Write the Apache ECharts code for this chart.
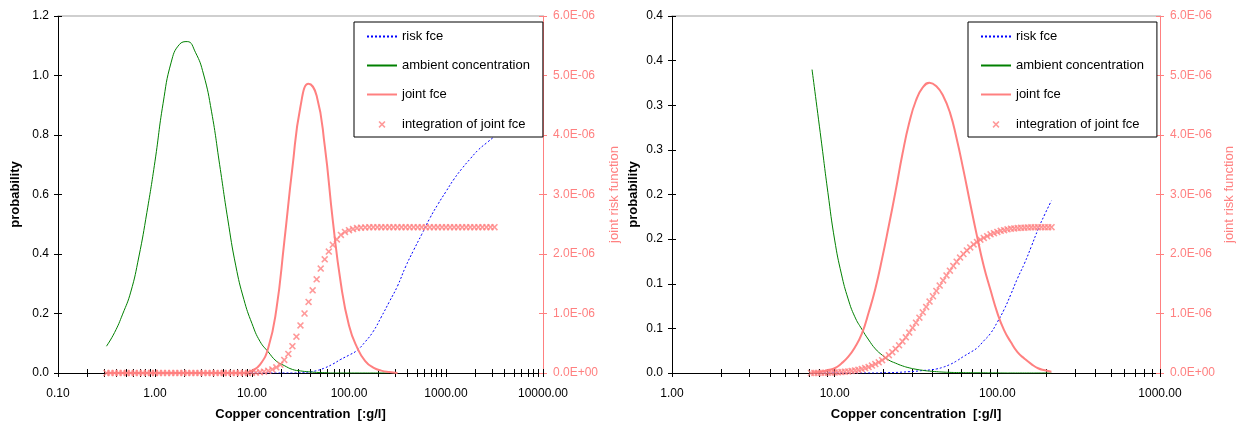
<!DOCTYPE html>
<html>
<head>
<meta charset="utf-8">
<script src="https://cdn.jsdelivr.net/npm/echarts@6/dist/echarts.min.js"></script>
<style>
  html, body { margin: 0; padding: 0; background: #fff; }
  #main { width: 1238px; height: 423px; }
</style>
</head>
<body>
<div id="main"></div>
<script>
// ---------- left chart : 0.316 .. 3162 ----------
var xLine1 = [0.316,0.383,0.464,0.562,0.681,0.825,
  1,1.21,1.47,1.78,2.15,2.61,3.16,3.83,4.64,5.62,6.81,8.25,
  10,12.1,14.7,17.8,21.5,26.1,31.6,38.3,46.4,56.2,68.1,82.5,
  100,121,147,178,215,261,316,383,464,562,681,825,
  1000,1211,1468,1778,2154,2610,3162];
var risk1 = [0,0,0,0,0,0,
  0,0,0,0,0,0,0,0,0,0,0,0,
  0,0,0,0,0,0,0.001,0.003,0.008,0.017,0.03,0.046,
  0.06,0.076,0.105,0.14,0.188,0.24,0.292,0.357,0.413,0.466,0.52,0.567,
  0.61,0.652,0.688,0.72,0.75,0.773,0.795];
var ambient1 = [0.09,0.136,0.198,0.272,0.39,0.54,
  0.712,0.905,1.045,1.104,1.114,1.078,1.005,0.878,0.70,0.518,0.36,0.247,
  0.166,0.106,0.071,0.040,0.025,0.012,0.007,0.004,0.002,0.001,0,0,
  0,0,0,0,0,0,null,null,null,null,null,null,
  null,null,null,null,null,null,null];
var joint1 = [0,0,0,0,0,0,
  0,0,0,0,0,0,0,0,0,0,0,0,
  0.04e-6,0.14e-6,0.42e-6,1.06e-6,2.2e-6,3.45e-6,4.48e-6,4.86e-6,4.66e-6,3.82e-6,2.56e-6,1.5e-6,
  0.8e-6,0.43e-6,0.2e-6,0.09e-6,0.04e-6,0.015e-6,0,null,null,null,null,null,
  null,null,null,null,null,null,null];
var xMark1 = [0.316,0.348,0.383,0.422,0.464,0.511,0.562,0.619,0.681,0.75,0.825,0.909,
  1,1.1,1.21,1.33,1.47,1.62,1.78,1.96,2.15,2.37,2.61,2.87,3.16,3.48,3.83,4.22,4.64,5.11,5.62,6.19,6.81,7.5,8.25,9.09,
  10,11,12.1,13.3,14.7,16.2,17.8,19.6,21.5,23.7,26.1,28.7,31.6,34.8,38.3,42.2,46.4,51.1,56.2,61.9,68.1,75,82.5,90.9,
  100,110,121,133,147,162,178,196,215,237,261,287,316,348,383,422,464,511,562,619,681,750,825,909,
  1000,1101,1212,1334,1468,1616,1778,1957,2154,2371,2610,2873,3162];
var integ1 = [0,0,0,0,0,0,0,0,0,0,0,0,
  0,0,0,0,0,0,0,0,0,0,0,0,0,0,0,0,0,0,0,0,0,0,0,0,
  0.005e-6,0.008e-6,0.013e-6,0.022e-6,0.036e-6,0.06e-6,0.095e-6,0.14e-6,0.22e-6,0.32e-6,0.45e-6,0.61e-6,
  0.8e-6,1.0e-6,1.195e-6,1.39e-6,1.575e-6,1.755e-6,1.91e-6,2.04e-6,2.155e-6,2.245e-6,2.32e-6,2.37e-6,
  2.4e-6,2.42e-6,2.435e-6,2.443e-6,2.447e-6,2.45e-6,2.45e-6,2.45e-6,2.45e-6,2.45e-6,2.45e-6,2.45e-6,
  2.45e-6,2.45e-6,2.45e-6,2.45e-6,2.45e-6,2.45e-6,2.45e-6,2.45e-6,2.45e-6,2.45e-6,2.45e-6,2.45e-6,
  2.45e-6,2.45e-6,2.45e-6,2.45e-6,2.45e-6,2.45e-6,2.45e-6,2.45e-6,2.45e-6,2.45e-6,2.45e-6,2.45e-6,2.45e-6];

// ---------- right chart : 7.3 .. 215 ----------
var xLine2 = [7.26,8.25,9.09,
  10,11,12.1,13.3,14.7,16.2,17.8,19.6,21.5,23.7,26.1,28.7,31.6,34.8,38.3,42.2,46.4,51.1,56.2,61.9,68.1,75,82.5,90.9,
  100,110,121,133,147,162,178,196,215];
var risk2 = [0,0,0,
  0,0,0,0,0,0,0,0.0002,0.0004,0.0006,0.001,0.0015,0.002,0.0028,0.0034,0.0045,0.0065,0.0095,0.0135,0.0185,0.023,0.028,0.036,0.0445,
  0.057,0.071,0.088,0.106,0.123,0.142,0.161,0.178,0.193];
var ambient2 = [0.34,0.262,0.202,
  0.149,0.111,0.083,0.063,0.049,0.037,0.027,0.02,0.0145,0.011,0.008,0.0058,0.0042,0.003,0.0021,0.0015,0.001,0.0007,0.0005,0.0004,0.0003,0.0002,0.0002,0.0001,
  0.0001,0,0,0,0,0,0,0,0];
var joint2 = [0.01e-6,0.02e-6,0.05e-6,
  0.08e-6,0.16e-6,0.27e-6,0.43e-6,0.66e-6,1.02e-6,1.42e-6,1.93e-6,2.47e-6,3.06e-6,3.68e-6,4.2e-6,4.58e-6,4.8e-6,4.88e-6,4.82e-6,4.66e-6,4.38e-6,3.94e-6,3.41e-6,2.85e-6,2.3e-6,1.8e-6,1.39e-6,
  1.01e-6,0.72e-6,0.52e-6,0.35e-6,0.24e-6,0.15e-6,0.08e-6,0.045e-6,0.02e-6];
var xMark2 = [7.15,7.5,7.87,8.25,8.66,9.09,9.53,
  10,10.49,11.01,11.55,12.12,12.71,13.34,13.99,14.68,15.4,16.16,16.95,17.78,18.66,19.57,20.54,21.54,22.6,23.71,24.88,26.1,27.38,28.73,30.14,
  31.62,33.18,34.81,36.52,38.31,40.19,42.17,44.24,46.42,48.7,51.09,53.6,56.23,59,61.9,64.94,68.13,71.48,74.99,78.67,82.54,86.6,90.85,95.32,
  100,104.9,110.1,115.5,121.2,127.1,133.4,139.9,146.8,154,161.6,169.5,177.8,186.6,195.7,205.4,215.4];
var integ2 = [0,0.001e-6,0.002e-6,0.003e-6,0.004e-6,0.005e-6,0.007e-6,
  0.009e-6,0.012e-6,0.016e-6,0.021e-6,0.027e-6,0.034e-6,0.043e-6,0.054e-6,0.067e-6,0.083e-6,0.1e-6,0.125e-6,0.15e-6,0.18e-6,0.215e-6,0.255e-6,0.3e-6,0.35e-6,0.405e-6,0.465e-6,0.53e-6,0.6e-6,0.68e-6,0.76e-6,
  0.845e-6,0.93e-6,1.02e-6,1.11e-6,1.2e-6,1.29e-6,1.38e-6,1.47e-6,1.555e-6,1.64e-6,1.72e-6,1.8e-6,1.87e-6,1.94e-6,2.0e-6,2.06e-6,2.11e-6,2.16e-6,2.2e-6,2.24e-6,2.27e-6,2.3e-6,2.33e-6,2.35e-6,
  2.37e-6,2.39e-6,2.4e-6,2.415e-6,2.425e-6,2.43e-6,2.435e-6,2.44e-6,2.443e-6,2.446e-6,2.448e-6,2.449e-6,2.45e-6,2.45e-6,2.45e-6,2.45e-6,2.45e-6];

// tick labels of the right chart's probability axis (0, 0.05 .. 0.40 shown rounded)
var yLabels2 = ['0.0','0.1','0.1','0.2','0.2','0.3','0.3','0.4','0.4'];
var tickMantissas = [1,2,3,4,5,6,7,8,9];

var FONT = '"Liberation Sans", Arial, sans-serif';
var PINK = '#ff8080';
var X_PATH = 'path://M0,1.6L1.6,0L5,3.4L8.4,0L10,1.6L6.6,5L10,8.4L8.4,10L5,6.6L1.6,10L0,8.4L3.4,5Z';
var X_ICON = 'path://M0,0M30,14M11.5,5L12.6,3.9L15,6.3L17.4,3.9L18.5,5L16.1,7.4L18.5,9.8L17.4,10.9L15,8.5L12.6,10.9L11.5,9.8L13.9,7.4Z';

function zip(xs, ys) {
  return xs.map(function (x, i) { return [x, ys[i]]; });
}
function logTicks(lo, hi) {
  var out = [];
  for (var d = lo; d < hi; d++) {
    tickMantissas.forEach(function (m) { out.push(d + Math.log10(m)); });
  }
  out.push(hi);
  return out;
}
function sciLabel(v) {
  var s = v.toExponential(1).split('e');
  var e = parseInt(s[1], 10);
  return s[0] + 'E' + (e < 0 ? '-' : '+') + (Math.abs(e) < 10 ? '0' : '') + Math.abs(e);
}

//////////AXES
function mainX(gi, lo, hi) {
  return {
    type: 'log', logBase: 10, gridIndex: gi, position: 'bottom',
    min: Math.pow(10, lo), max: Math.pow(10, hi),
    axisLine: {onZero: false, lineStyle: {color: '#000', width: 1}},
    axisTick: {show: false},
    splitLine: {show: false},
    axisLabel: {fontSize: 12, color: '#000', margin: 15, fontFamily: FONT,
      formatter: function (v) { return v.toFixed(2); }},
    name: 'Copper concentration  [:g/l]', nameLocation: 'middle', nameGap: 35,
    nameTextStyle: {fontSize: 13, fontWeight: 'bold', color: '#000', fontFamily: FONT}
  };
}
function tickX(gi, lo, hi) {
  return {
    type: 'value', gridIndex: gi, position: 'bottom', min: lo, max: hi, offset: -4,
    axisLine: {show: false, onZero: false},
    axisTick: {show: true, length: 8, customValues: logTicks(lo, hi), lineStyle: {color: '#000'}},
    axisLabel: {show: false}, splitLine: {show: false}
  };
}
// grey frame line on top of the plot area
function topX(gi) {
  return {
    type: 'value', gridIndex: gi, position: 'top', min: 0, max: 1,
    axisLine: {show: true, onZero: false, lineStyle: {color: '#c0c0c0', width: 1.5}},
    axisTick: {show: false}, axisLabel: {show: false}, splitLine: {show: false}
  };
}
function leftY(gi, max, interval, fmt, gap) {
  return {
    type: 'value', gridIndex: gi, position: 'left', min: 0, max: max, interval: interval,
    axisLine: {show: true, onZero: false, lineStyle: {color: '#000'}},
    axisTick: {show: false}, splitLine: {show: false},
    axisLabel: {fontSize: 12, color: '#000', margin: 9, fontFamily: FONT, formatter: fmt},
    name: 'probability', nameLocation: 'middle', nameRotate: 90, nameGap: gap,
    nameTextStyle: {fontSize: 13, fontWeight: 'bold', color: '#000', fontFamily: FONT}
  };
}
function rightY(gi, gap) {
  return {
    type: 'value', gridIndex: gi, position: 'right', min: 0, max: 6e-6, interval: 1e-6,
    axisLine: {show: true, onZero: false, lineStyle: {color: PINK}},
    axisTick: {show: false}, splitLine: {show: false},
    axisLabel: {fontSize: 12, color: PINK, margin: 10, fontFamily: FONT, formatter: sciLabel},
    name: 'joint risk function', nameLocation: 'middle', nameRotate: 90, nameGap: gap,
    nameTextStyle: {fontSize: 13, color: PINK, fontFamily: FONT}
  };
}
function tickY(gi, pos, max, interval, color) {
  return {
    type: 'value', gridIndex: gi, position: pos, min: 0, max: max, interval: interval, offset: -4,
    axisLine: {show: false, onZero: false},
    axisTick: {show: true, length: 8, lineStyle: {color: color}},
    axisLabel: {show: false}, splitLine: {show: false}
  };
}

//////////SERIES
function chartSeries(xi, yl, yr, xl, risk, amb, joint, xm, integ) {
  return [
    {name: 'risk fce', type: 'line', xAxisIndex: xi, yAxisIndex: yl, data: zip(xl, risk),
      symbol: 'none', smooth: true, z: 2,
      lineStyle: {color: '#0000ff', width: 1, type: [2, 2]}, itemStyle: {color: '#0000ff'}},
    {name: 'ambient concentration', type: 'line', xAxisIndex: xi, yAxisIndex: yl, data: zip(xl, amb),
      symbol: 'none', smooth: true, z: 2,
      lineStyle: {color: '#008000', width: 1}, itemStyle: {color: '#008000'}},
    {name: 'joint fce', type: 'line', xAxisIndex: xi, yAxisIndex: yr, data: zip(xl, joint),
      symbol: 'none', smooth: true, z: 2,
      lineStyle: {color: PINK, width: 2}, itemStyle: {color: PINK}},
    {name: 'integration of joint fce', type: 'scatter', xAxisIndex: xi, yAxisIndex: yr, data: zip(xm, integ),
      symbol: X_PATH, symbolSize: 7, z: 3, itemStyle: {color: PINK}}
  ];
}

function legendAt(left) {
  var noDot = {opacity: 0};
  return {
    left: left, top: 22, orient: 'vertical', padding: [8, 13, 6, 12],
    itemGap: 16, itemWidth: 30, itemHeight: 14, selectedMode: false,
    backgroundColor: '#fff', borderColor: '#000', borderWidth: 1, borderRadius: 0,
    textStyle: {fontSize: 13, color: '#000', fontFamily: FONT},
    data: [
      {name: 'risk fce', itemStyle: noDot},
      {name: 'ambient concentration', itemStyle: noDot},
      {name: 'joint fce', itemStyle: noDot},
      {name: 'integration of joint fce', icon: X_ICON}
    ]
  };
}

var chart = echarts.init(document.getElementById('main'));
chart.setOption({
  animation: false,
  textStyle: {fontFamily: FONT},
  grid: [
    {left: 58, top: 16, width: 485, height: 357, outerBoundsMode: 'none'},
    {left: 672, top: 16, width: 488, height: 357, outerBoundsMode: 'none'}
  ],
  xAxis: [mainX(0, -1, 4), tickX(0, -1, 4), mainX(1, 0, 3), tickX(1, 0, 3), topX(0), topX(1)],
  yAxis: [
    leftY(0, 1.2, 0.2, function (v) { return v.toFixed(1); }, 36),
    rightY(0, 65),
    tickY(0, 'left', 1.2, 0.2, '#000'),
    tickY(0, 'right', 6e-6, 1e-6, PINK),
    leftY(1, 0.4, 0.05, function (v) { return yLabels2[Math.round(v / 0.05)]; }, 32),
    rightY(1, 63),
    tickY(1, 'left', 0.4, 0.05, '#000'),
    tickY(1, 'right', 6e-6, 1e-6, PINK)
  ],
  legend: [legendAt(354), legendAt(968)],
  series: chartSeries(0, 0, 1, xLine1, risk1, ambient1, joint1, xMark1, integ1)
    .concat(chartSeries(2, 4, 5, xLine2, risk2, ambient2, joint2, xMark2, integ2))
});
</script>
</body>
</html>
